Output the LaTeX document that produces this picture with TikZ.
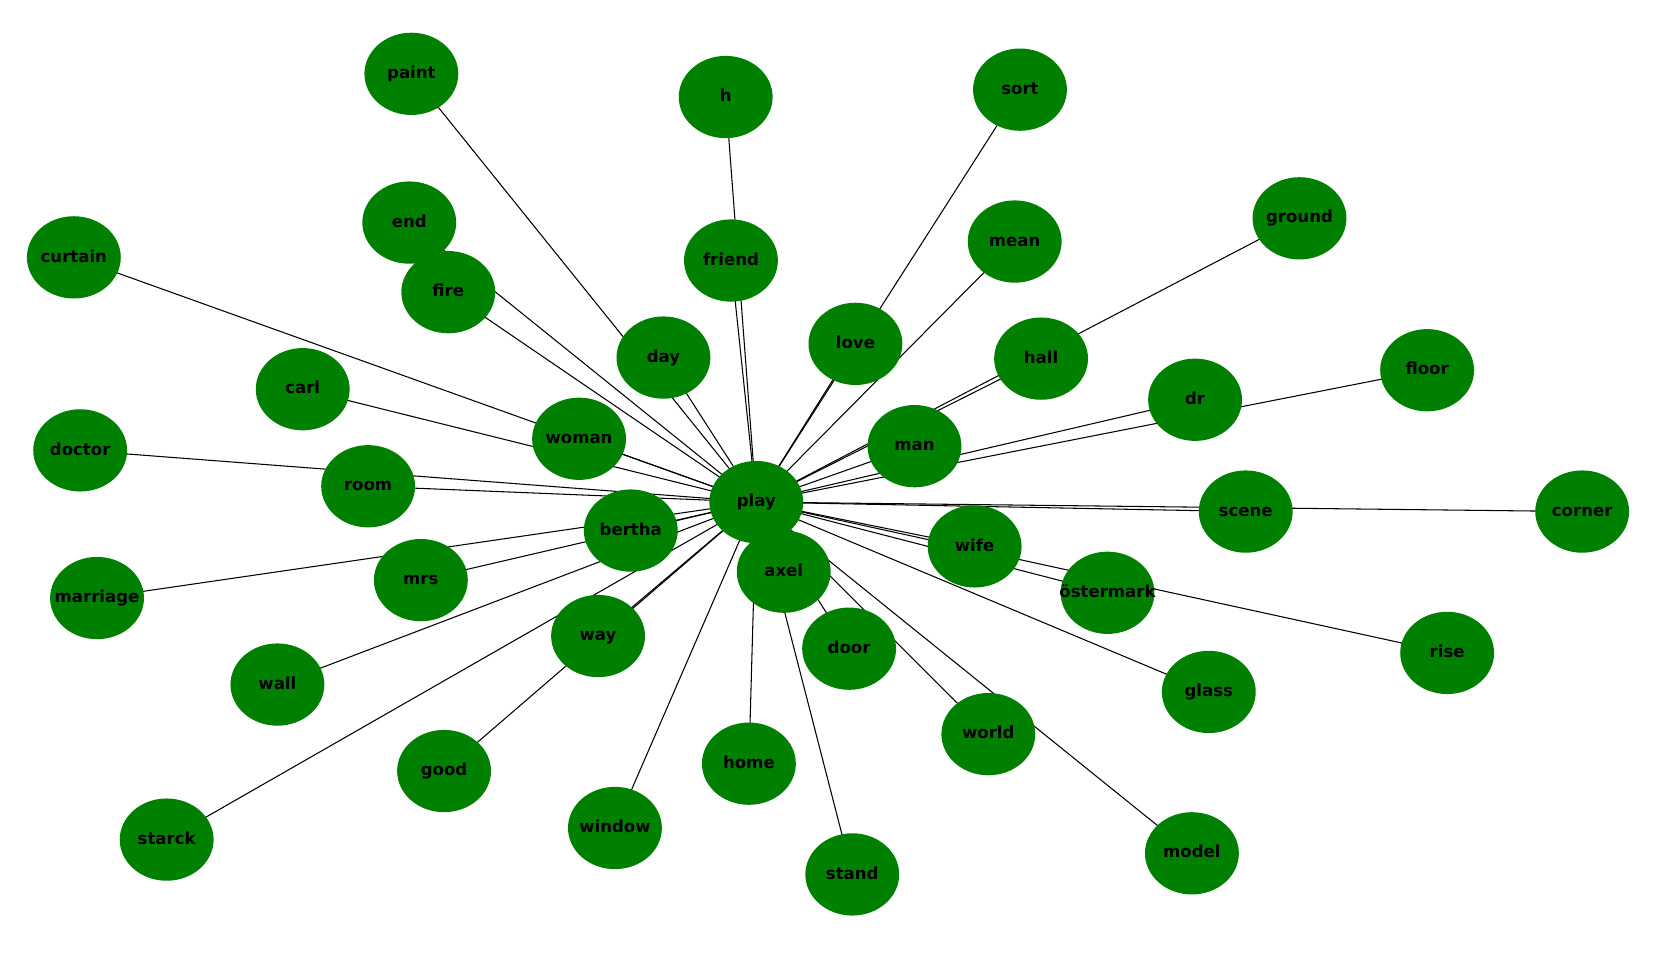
\documentclass[tikz,border=0pt]{standalone}
\usepackage{fontspec}
\setmainfont{DejaVu Sans}
\usetikzlibrary{shapes.geometric,backgrounds}
\definecolor{nodegreen}{RGB}{0,128,0}
\begin{document}
\begin{tikzpicture}[x=1pt,y=-1pt,
	word/.style={ellipse,fill=nodegreen,minimum width=89pt,minimum height=78pt,inner sep=0pt,
		font=\fontsize{15.7}{18}\selectfont\bfseries,text height=12.6pt,text depth=3.8pt}]
	
	\useasboundingbox (0,0) rectangle (1570,925);
	\foreach \n/\x/\y/\t in {paint/390/70/paint, h/688/92/h, sort/967/85/sort,
		end/388/211/end, friend/693/247/friend, mean/962/229/mean, ground/1232/207/ground,
		curtain/70/244/curtain, fire/425/277/fire, day/629/339/day, love/811/326/love,
		hall/987/340/hall, floor/1353/351/floor, carl/287/369/carl, dr/1133/379/dr,
		woman/549/416/woman, man/867/423/man, doctor/76/427/doctor, room/349/461/room,
		play/717/476/play, scene/1181/485/scene, corner/1500/485/corner,
		bertha/598/503/bertha, wife/924/518/wife, axel/743/542/axel, mrs/399/550/mrs,
		marriage/92/567/marriage, ostermark/1050/562/östermark, way/567/603/way,
		door/805/615/door, rise/1372/619/rise, wall/263/649/wall, glass/1146/656/glass,
		world/937/696/world, good/421/731/good, home/710/724/home, window/583/785/window,
		starck/158/796/starck, model/1130/809/model, stand/808/829/stand}
		\node[word] (\n) at (\x,\y) {\makebox[0pt]{\t}};
	\begin{pgfonlayer}{background}
		\foreach \n in {paint,h,sort,end,friend,mean,ground,curtain,fire,day,love,hall,
			floor,carl,dr,woman,man,doctor,room,scene,corner,bertha,wife,axel,mrs,marriage,
			ostermark,way,door,rise,wall,glass,world,good,home,window,starck,model,stand}
			\draw[line width=1pt] (play.center) -- (\n.center);
	\end{pgfonlayer}
\end{tikzpicture}
\end{document}
